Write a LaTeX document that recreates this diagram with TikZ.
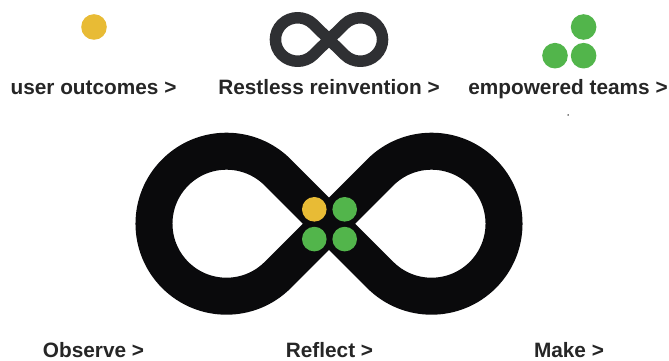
\documentclass[tikz,border=0pt]{standalone}
\usepackage{fontspec}
\setmainfont{Liberation Sans}
\usetikzlibrary{positioning}
\definecolor{dotyellow}{HTML}{E8BB35}
\definecolor{dotgreen}{HTML}{52B54B}
\definecolor{loopblack}{HTML}{0A0A0C}
\definecolor{loopgrey}{HTML}{2F3033}

\begin{document}
\begin{tikzpicture}[x=1pt, y=1pt, line join=round,
                dot/.style={circle, inner sep=0pt, minimum size=24.6pt},
                bigdot/.style={dot, minimum size=25.6pt},
                tag/.style={font=\fontsize{20.8}{24}\selectfont\bfseries, text=black!85, inner sep=0pt, anchor=base},
                loopmark/.pic={
                    \draw[pic actions] (51.25,51.25) arc[start angle=135, end angle=-135, radius=72.5pt]
                        -- (-51.25,51.25) arc[start angle=45, end angle=315, radius=72.5pt] -- cycle;
                }]

                \useasboundingbox (0,0) rectangle (669,361);

                % top row
                \pic[draw=loopgrey, line width=11.5pt, xscale=.306, yscale=.3] at (329,321.5) {loopmark};
                \node[bigdot, fill=dotyellow] (topyellow) at (94,334) {};
                \node[bigdot, fill=dotgreen] (topa) at (583.6,334) {};
                \node[bigdot, fill=dotgreen] (topb) at (583.6,305.3) {};
                \node[bigdot, fill=dotgreen] (topc) at (555,305.3) {};

                \node[tag] (outcomes) at (93.5,266) {user outcomes >};
                \node[tag] (reinvention) at (329,266) {Restless reinvention >};
                \node[tag] (teams) at (568,266) {empowered teams >};
                \node[circle, fill=black, inner sep=0pt, minimum size=1.5pt] (speck) at (568,246) {};

                % big loop
                \pic[draw=loopblack, line width=37pt] at (329,137.3) {loopmark};
                \node[dot, fill=dotyellow] (ya) at (314.3,151.7) {};
                \node[dot, fill=dotgreen] (gb) [right=5.4pt of ya] {};
                \node[dot, fill=dotgreen] (gc) [below=4.8pt of ya] {};
                \node[dot, fill=dotgreen] (gd) [below=4.8pt of gb] {};

                % bottom row
                \node[tag] (observe) at (93.5,3.7) {Observe >};
                \node[tag] (reflect) at (329.5,3.7) {Reflect >};
                \node[tag] (make) at (569,3.7) {Make >};

            \end{tikzpicture}
\end{document}
